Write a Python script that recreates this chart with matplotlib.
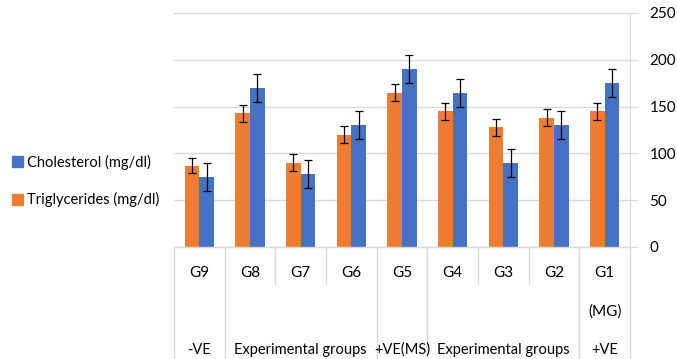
import matplotlib

matplotlib.use("Agg")
import matplotlib.pyplot as plt
import numpy as np
from matplotlib.patches import Patch

# data (left to right as drawn)
groups = ["G9", "G8", "G7", "G6", "G5", "G4", "G3", "G2", "G1"]
trig = [87, 143, 90, 120, 165, 145, 128, 138, 145]
trig_err = [8, 9, 9, 9, 9, 9, 9, 9, 9]
chol = [75, 170, 78, 130, 190, 165, 90, 130, 175]
chol_err = [15, 15, 15, 15, 15, 15, 15, 15, 15]
outer_labels = ["-VE", "Experimental groups", "+VE(MS)", "Experimental groups", "+VE"]
outer_spans = [(0, 1), (1, 4), (4, 5), (5, 8), (8, 9)]

ORANGE = "#ED7D31"
BLUE = "#4472C4"
GRID = "#D9D9D9"

plt.rcParams["font.family"] = ["Lato", "DejaVu Sans"]
W, H = 677, 359
fig = plt.figure(figsize=(W / 100, H / 100), dpi=100)
x0, x1, y0, y1 = 174, 630, 247, 13
ax = fig.add_axes([x0 / W, 1 - y0 / H, (x1 - x0) / W, (y0 - y1) / H])

x = np.arange(len(groups)) + 0.5
bw = 0.287
ax.bar(x - bw / 2, trig, bw, color=ORANGE, zorder=3)
ax.bar(x + bw / 2, chol, bw, color=BLUE, zorder=3)
ekw = dict(fmt="none", ecolor="black", elinewidth=0.9, capsize=3, capthick=0.9, zorder=4)
ax.errorbar(x - bw / 2, trig, yerr=trig_err, **ekw)
ax.errorbar(x + bw / 2, chol, yerr=chol_err, **ekw)

ax.set_xlim(0, len(groups))
ax.set_ylim(0, 250)
ax.set_yticks(range(0, 251, 50))
ax.yaxis.tick_right()
ax.tick_params(axis="y", length=6, color=GRID, labelsize=11, pad=8)
ax.tick_params(axis="x", bottom=False, labelbottom=False)
ax.grid(axis="y", color=GRID, lw=1, zorder=0)
for s in ["top", "left", "bottom"]:
    ax.spines[s].set_visible(False)
ax.spines["right"].set_color(GRID)
ax.spines["right"].set_zorder(1)

# multi-level category axis drawn by hand
tr = ax.get_xaxis_transform()
ph = y0 - y1
ax.plot([0, len(groups)], [0, 0], transform=tr, color=GRID, lw=1, clip_on=False, zorder=5)
bounds = sorted({b for span in outer_spans for b in span})
for b in range(len(groups) + 1):
    bottom = -(H - y0) / ph if b in bounds else -37 / ph
    ax.plot([b, b], [0, bottom], transform=tr, color=GRID, lw=1, clip_on=False)
for xi, g in zip(x, groups):
    ax.text(xi, -26 / ph, g, transform=tr, ha="center", va="center", fontsize=11)
ax.text(x[-1], -65 / ph, "(MG)", transform=tr, ha="center", va="center", fontsize=11)
for (a, b), lab in zip(outer_spans, outer_labels):
    ax.text((a + b) / 2, -103 / ph, lab, transform=tr, ha="center", va="center", fontsize=10.5)

handles = [Patch(color=BLUE), Patch(color=ORANGE)]
fig.legend(handles, ["Cholesterol (mg/dl)", "Triglycerides (mg/dl)"],
           loc="center left", bbox_to_anchor=(12 / W, 1 - 181 / H), frameon=False,
           fontsize=10.5, handlelength=0.75, handleheight=0.85, handletextpad=0.25,
           labelspacing=1.55, borderpad=0, borderaxespad=0)

fig.savefig("out.png", dpi=100)
